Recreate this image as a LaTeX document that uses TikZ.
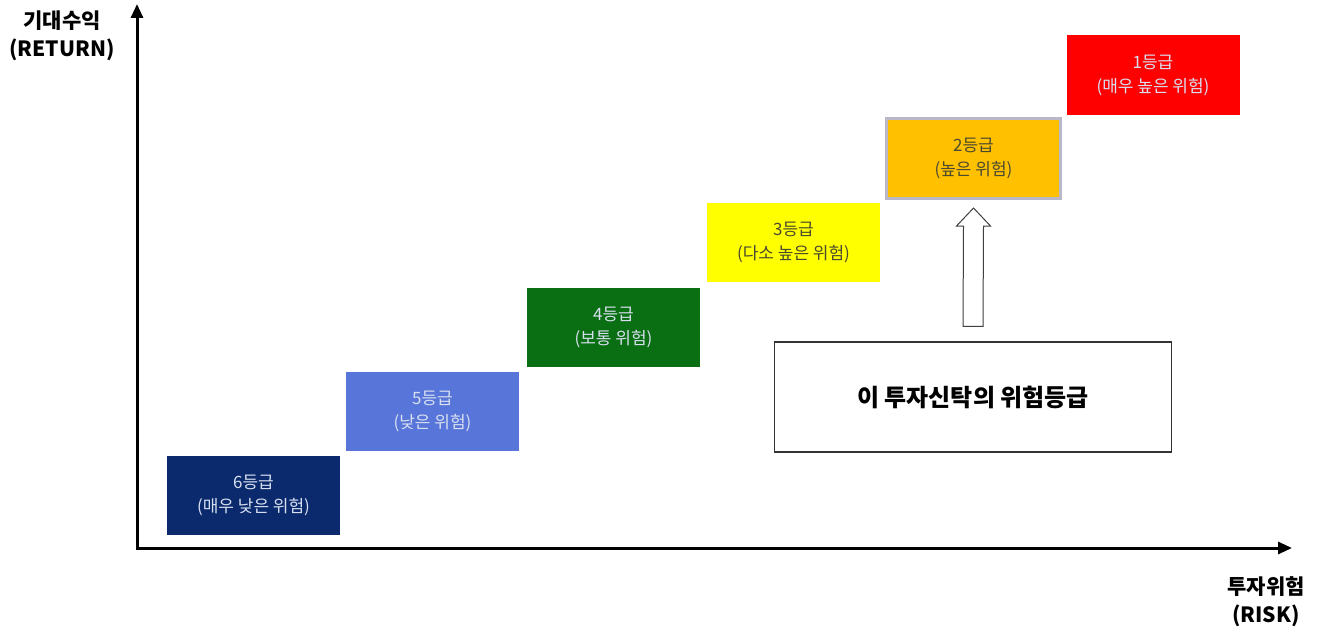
\documentclass[tikz,border=0pt]{standalone}
\usepackage{fontspec}
\setmainfont{Noto Sans CJK KR}
\usetikzlibrary{arrows.meta}
\definecolor{c6}{HTML}{0B2A6E}
\definecolor{c5}{HTML}{5875D9}
\definecolor{c4}{HTML}{0A6E12}
\definecolor{c3}{HTML}{FFFF00}
\definecolor{c2}{HTML}{FFC000}
\definecolor{c1}{HTML}{FF0000}
\definecolor{lighttxt}{HTML}{D8E0F0}
\definecolor{darktxt}{HTML}{4A4A30}
\definecolor{bordergrey}{HTML}{B8B8C8}
\begin{document}
\begin{tikzpicture}[x=1pt,y=-1pt,
  grade/.style={minimum width=173pt,minimum height=79pt,inner sep=0pt,align=center,font=\fontsize{17}{24}\selectfont},
  axislabel/.style={align=center,font=\bfseries\fontsize{21}{28}\selectfont},
  axisline/.style={line width=3pt,-{Triangle[length=14pt,width=12pt]}},
  blockarrow/.style={draw=black!75,line width=1pt,fill=white,line join=miter}]
\useasboundingbox (0,0) rectangle (1328,634);
\coordinate (o) at (137,548);
\coordinate (ytip) at (137,4);
\coordinate (xtip) at (1292,548);
\draw[axisline] (137,549.5) -- (ytip);
\draw[axisline] (135.5,548) -- (xtip);
\node[axislabel] (ylab) at (62,36) {기대수익\\(RETURN)};
\node[axislabel] (xlab) at (1266,602) {투자위험\\(RISK)};
\node[grade,fill=c6,text=lighttxt] (g6) at (253.5,495.5) {6등급\\(매우 낮은 위험)};
\node[grade,fill=c5,text=lighttxt] (g5) at (432.5,411.5) {5등급\\(낮은 위험)};
\node[grade,fill=c4,text=lighttxt] (g4) at (613.5,327) {4등급\\(보통 위험)};
\node[grade,fill=c3,text=darktxt] (g3) at (793.5,242) {3등급\\(다소 높은 위험)};
\node[grade,fill=c2,text=darktxt,draw=bordergrey,line width=3pt,minimum width=174pt,minimum height=80pt] (g2) at (973.5,158.5) {2등급\\(높은 위험)};
\node[grade,fill=c1,text=lighttxt] (g1) at (1153,75) {1등급\\(매우 높은 위험)};
\node[draw=black!80,line width=1.2pt,minimum width=397pt,minimum height=110pt,font=\bfseries\fontsize{24}{30}\selectfont] (me) at (973,397) {이 투자신탁의 위험등급};
% hollow block arrow from the box up toward the 2등급 box
\coordinate (abase) at ([yshift=15pt]me.north);
\coordinate (atip) at ([yshift=-8pt]g2.south);
\draw[blockarrow] ([xshift=-10pt]abase) -- ([xshift=-10pt,yshift=-18pt]atip) -- ([xshift=-17pt,yshift=-18pt]atip) -- (atip)
  -- ([xshift=17pt,yshift=-18pt]atip) -- ([xshift=10pt,yshift=-18pt]atip) -- ([xshift=10pt]abase) -- cycle;
\end{tikzpicture}
\end{document}
